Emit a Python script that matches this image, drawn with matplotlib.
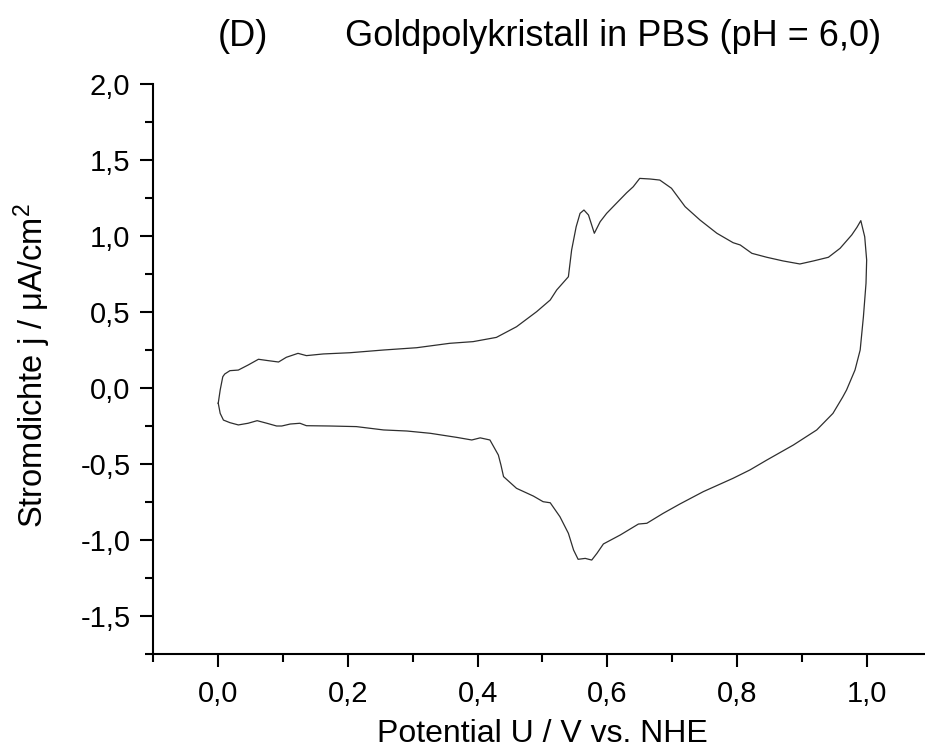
import matplotlib
matplotlib.use("Agg")
import matplotlib.pyplot as plt
from matplotlib.ticker import MultipleLocator, FuncFormatter

plt.rcParams['font.family'] = ['Liberation Sans', 'DejaVu Sans']
plt.rcParams['mathtext.fontset'] = 'custom'
plt.rcParams['mathtext.rm'] = 'Liberation Sans'
plt.rcParams['mathtext.it'] = 'Liberation Sans:italic'
plt.rcParams['axes.unicode_minus'] = False

# Zyklovoltammogramm (anodischer Hinlauf, dann kathodischer Rücklauf)
potential = [
    0.000, 0.003, 0.007, 0.010, 0.018, 0.031, 0.046, 0.062, 0.077, 0.093,
    0.105, 0.123, 0.136, 0.162, 0.203, 0.255, 0.306, 0.357, 0.393, 0.429,
    0.460, 0.491, 0.512, 0.522, 0.540, 0.545, 0.552, 0.558, 0.564, 0.571,
    0.580, 0.589, 0.599, 0.614, 0.630, 0.640, 0.650, 0.666, 0.681, 0.699,
    0.720, 0.743, 0.769, 0.794, 0.805, 0.823, 0.846, 0.871, 0.897, 0.918,
    0.941, 0.959, 0.977, 0.985, 0.991, 0.997, 1.000, 0.999, 0.995, 0.990,
    0.982, 0.969, 0.963, 0.948, 0.923, 0.887, 0.846, 0.820, 0.794, 0.748,
    0.712, 0.686, 0.661, 0.648, 0.620, 0.594, 0.584, 0.576, 0.566, 0.555,
    0.548, 0.540, 0.527, 0.512, 0.501, 0.486, 0.460, 0.440, 0.436, 0.432,
    0.419, 0.404, 0.391, 0.368, 0.327, 0.291, 0.255, 0.213, 0.172, 0.136,
    0.126, 0.111, 0.098, 0.090, 0.075, 0.060, 0.046, 0.031, 0.018, 0.008,
    0.003, 0.000,
]
current = [
    -0.100, -0.013, 0.074, 0.092, 0.114, 0.118, 0.151, 0.189, 0.180, 0.171,
    0.202, 0.228, 0.213, 0.224, 0.232, 0.250, 0.265, 0.294, 0.305, 0.333,
    0.403, 0.502, 0.579, 0.645, 0.732, 0.908, 1.061, 1.149, 1.171, 1.138,
    1.018, 1.094, 1.149, 1.215, 1.285, 1.324, 1.379, 1.375, 1.368, 1.314,
    1.193, 1.105, 1.018, 0.956, 0.941, 0.886, 0.860, 0.836, 0.816, 0.836,
    0.860, 0.919, 1.007, 1.057, 1.101, 0.995, 0.842, 0.689, 0.469, 0.250,
    0.118, -0.013, -0.060, -0.167, -0.276, -0.375, -0.474, -0.539, -0.594, -0.682,
    -0.763, -0.825, -0.890, -0.895, -0.967, -1.026, -1.088, -1.132, -1.121, -1.127,
    -1.066, -0.956, -0.847, -0.755, -0.748, -0.711, -0.660, -0.583, -0.507, -0.441,
    -0.342, -0.328, -0.342, -0.325, -0.298, -0.283, -0.276, -0.254, -0.250, -0.248,
    -0.232, -0.237, -0.250, -0.250, -0.232, -0.215, -0.232, -0.243, -0.228, -0.211,
    -0.167, -0.100,
]

W, H = 925, 749
fig = plt.figure(figsize=(W / 100, H / 100), dpi=100)
ax = fig.add_axes([153.4 / W, 95 / H, (931.5 - 153.4) / W, 570 / H])

ax.plot(potential, current, color='#2e2e2e', lw=0.9)

ax.set_xlim(-0.1, 1.1)
ax.set_ylim(-1.75, 2.0)
ax.xaxis.set_major_locator(MultipleLocator(0.2))
ax.xaxis.set_minor_locator(MultipleLocator(0.1))
ax.yaxis.set_major_locator(MultipleLocator(0.5))
ax.yaxis.set_minor_locator(MultipleLocator(0.25))
fmt = FuncFormatter(lambda v, pos: f"{v:.1f}".replace('.', ',').replace('-0,0', '0,0'))
ax.xaxis.set_major_formatter(fmt)
ax.yaxis.set_major_formatter(fmt)

for s in ['top', 'right']:
    ax.spines[s].set_visible(False)
for s in ['left', 'bottom']:
    ax.spines[s].set_linewidth(1.5)
ax.tick_params(which='major', direction='out', length=9.5, width=1.5,
               labelsize=21, pad=7, color='black')
ax.tick_params(which='minor', direction='out', length=5.5, width=1.5)
ax.tick_params(axis='x', which='major', pad=9)

fig.text(218 / W, 1 - 46 / H, '(D)', fontsize=26, ha='left', va='baseline')
fig.text(345 / W, 1 - 46 / H, 'Goldpolykristall in PBS (pH = 6,0)', fontsize=26,
         ha='left', va='baseline')
fig.text(542 / W, 1 - 742 / H, 'Potential U / V vs. NHE', fontsize=23,
         ha='center', va='baseline')
fig.text(32 / W, 1 - 366 / H, 'Stromdichte j / μA/cm$^2$', fontsize=23.5,
         rotation=90, ha='center', va='center')

fig.savefig('out.png', dpi=100)
